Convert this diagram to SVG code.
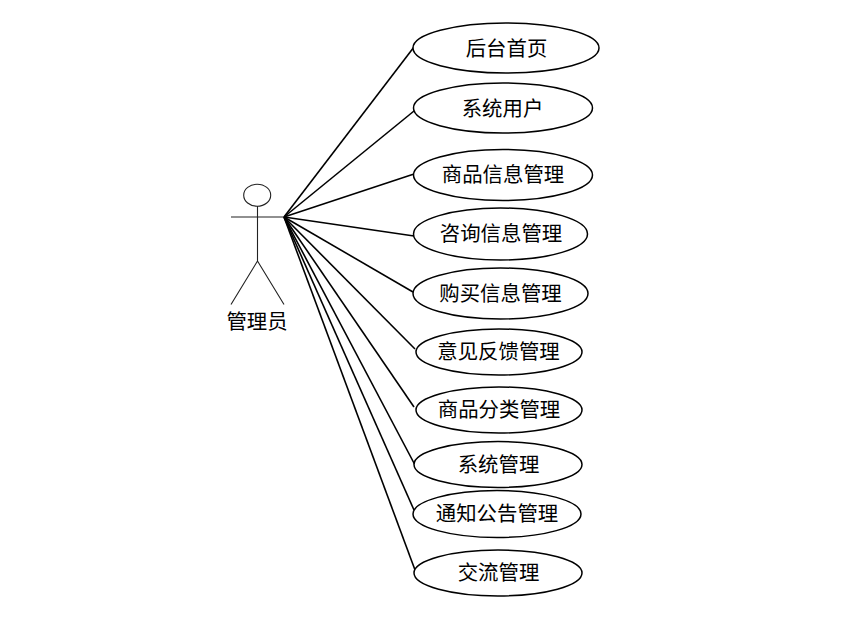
<svg xmlns="http://www.w3.org/2000/svg" width="860" height="619" viewBox="0 0 860 619">
<style>
.bg{fill:#fff}
ellipse{fill:#fff;stroke:#000;stroke-width:1.5}
ellipse.head{fill:#fff;stroke:#222;stroke-width:1.1}
.actor{fill:none;stroke:#222;stroke-width:1.1}
#connectors line{stroke:#000;stroke-width:1.6}
text{font-family:"Noto Sans CJK SC","Liberation Sans",sans-serif;font-size:20.400px;fill:#000;text-anchor:middle}
</style>
<rect class="bg" width="860" height="619"/>
<g id="connectors">
<line x1="284" y1="217" x2="414" y2="47"/>
<line x1="284" y1="217" x2="414" y2="111"/>
<line x1="284" y1="217" x2="414" y2="174"/>
<line x1="284" y1="217" x2="414" y2="236"/>
<line x1="284" y1="217" x2="413" y2="292"/>
<line x1="284" y1="217" x2="415" y2="349"/>
<line x1="284" y1="217" x2="414" y2="407"/>
<line x1="284" y1="217" x2="415" y2="465"/>
<line x1="284" y1="217" x2="414" y2="510"/>
<line x1="284" y1="217" x2="415" y2="570"/>
</g>
<g id="actor">
<ellipse class="head" cx="257.200" cy="195.200" rx="13.500" ry="11"/>
<path class="actor" d="M231 217H284M257.500 206V261M257.500 261L231 304.500M257.500 261L284 304.500"/>
<text x="257" y="329">管理员</text>
</g>
<g id="uc1"><ellipse cx="506" cy="48" rx="93" ry="25"/><text x="506.500" y="56">后台首页</text></g>
<g id="uc2"><ellipse cx="503" cy="108" rx="89.500" ry="25"/><text x="502.500" y="116">系统用户</text></g>
<g id="uc3"><ellipse cx="503" cy="175" rx="89.500" ry="25.500"/><text x="503" y="182">商品信息管理</text></g>
<g id="uc4"><ellipse cx="500.500" cy="234" rx="87" ry="26"/><text x="501" y="241">咨询信息管理</text></g>
<g id="uc5"><ellipse cx="500.500" cy="293.500" rx="87.500" ry="25.500"/><text x="500.500" y="301">购买信息管理</text></g>
<g id="uc6"><ellipse cx="499" cy="352" rx="83" ry="23"/><text x="498.500" y="359">意见反馈管理</text></g>
<g id="uc7"><ellipse cx="499" cy="410" rx="83" ry="23"/><text x="499" y="417">商品分类管理</text></g>
<g id="uc8"><ellipse cx="498" cy="464.500" rx="84" ry="23"/><text x="498.500" y="472">系统管理</text></g>
<g id="uc9"><ellipse cx="497" cy="514" rx="84" ry="23.500"/><text x="497" y="521">通知公告管理</text></g>
<g id="uc10"><ellipse cx="498" cy="573" rx="84" ry="23"/><text x="498.500" y="580">交流管理</text></g>
</svg>
